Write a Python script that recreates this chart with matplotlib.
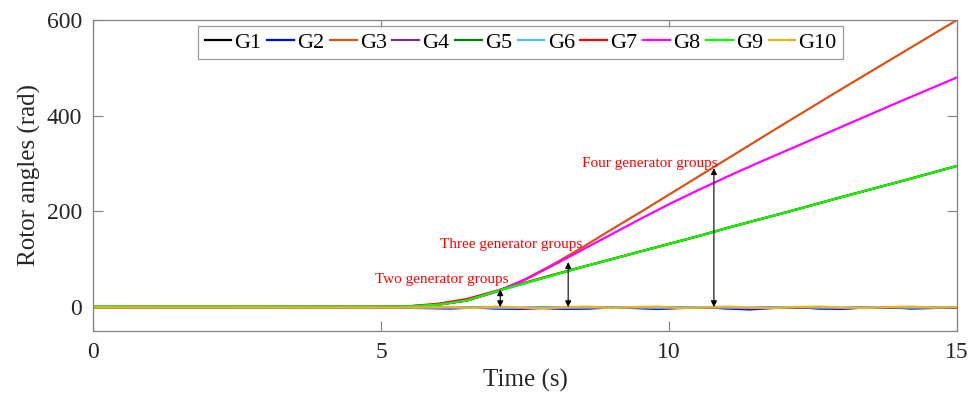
import matplotlib.pyplot as plt

plt.rcParams['font.family'] = ['Liberation Serif', 'DejaVu Serif']

# time base for the swinging groups (s)
t = [0, 5.0, 5.5, 6.0, 6.5, 7.0, 7.5, 8.0, 8.5, 9.0, 9.5, 10.0, 10.5, 11.0,
     11.5, 12.0, 13.0, 14.0, 15.0]

g3 = [0, 0.3, 1.5, 5, 14, 32, 58, 90, 125, 162, 198, 235, 272, 309, 346, 383,
      456, 528, 600]
g8 = [0, 0.3, 1.5, 5, 14, 32, 57, 88, 120, 152, 184, 215, 244, 272, 299, 325,
      377, 429, 480]
g5 = [0.5, 0.6, 1.5, 5, 14, 33, 50, 67, 84, 100, 116, 132, 148, 165, 181, 197,
      230, 262, 295]
g7 = [0.5, 0.6, 2.0, 7, 17, 34, 51, 68, 84, 100, 116, 132, 148, 165, 181, 197,
      230, 262, 295]
g9 = [0.8, 0.8, 1.5, 5, 14, 33, 50, 67, 84, 100, 116, 132, 148, 165, 181, 197,
      230, 262, 295]

# time base for the generators that stay in step (s)
t_s = [0, 5.0, 5.4, 5.8, 6.2, 6.6, 7.0, 7.4, 7.8, 8.2, 8.6, 9.0, 9.4, 9.8,
       10.2, 10.6, 11.0, 11.4, 11.8, 12.2, 12.6, 13.0, 13.4, 13.8, 14.2,
       14.6, 15.0]
g1 = [-1, -1, -1, -1, -1.5, -1, -2, -2, -1, -2, -2, -1, -1, -2, -1, -1, -2,
      -2, -1, -1, -2, -2, -1, -1, -2, -1, -1]
g2 = [-1, -1, -1.5, -2, -3, -1, -3, -4, -2, -4, -3, -1, -2, -4, -2, 0, -3,
      -5, -2, 0, -3, -4, -1, 0, -3, -2, 0]
g4 = [-1.5, -1.5, -1.5, -2, -2, -1.5, -2, -2.5, -1.5, -2.5, -2, -1.5, -1.5,
      -2.5, -1.5, -1, -2, -2.5, -1.5, -1, -2, -2.5, -1, -1, -2, -1.5, -1]
g6 = [-0.5, -0.5, -0.5, -1, -1, -0.5, -1.5, -1.5, -0.5, -1.5, -1, -0.5,
      -0.5, -1.5, -0.5, 0, -1, -1.5, -0.5, 0, -1, -1.5, -0.5, 0, -1, -0.5, 0]
g10 = [-1, -1, -1, -0.5, 0, -2, 1, -1, -3, 0, 1, -2, 0, 1, -2, -1, 1, -1, -2,
       0, 1, -1, -2, 0, 1, -1, 0]

fig = plt.figure(figsize=(9.74, 4.04), dpi=100)
ax = fig.add_axes([0.0955, 0.1807, 0.887, 0.7698])

lw = 1.6
ax.plot(t_s, g1, color='black', lw=lw, label='G1')
ax.plot(t_s, g2, color='#0000FF', lw=lw, label='G2')
ax.plot(t, g3, color='#D95319', lw=lw, label='G3')
ax.plot(t_s, g4, color='#7E2F8E', lw=lw, label='G4')
ax.plot(t, g5, color='#008000', lw=lw, label='G5')
ax.plot(t_s, g6, color='#4DBEEE', lw=lw, label='G6')
ax.plot(t, g7, color='#FF0000', lw=lw, label='G7')
ax.plot(t, g8, color='#FF00FF', lw=lw, label='G8')
ax.plot(t, g9, color='#00FF00', lw=lw, label='G9')
ax.plot(t_s, g10, color='#EDB120', lw=lw, label='G10')

# group separation markers
arrow = dict(arrowstyle='<|-|>', color='black', lw=0.8,
             mutation_scale=9, shrinkA=0, shrinkB=0)
ax.annotate('', xy=(7.07, 37), xytext=(7.07, 0), arrowprops=arrow)
ax.annotate('', xy=(8.25, 94), xytext=(8.25, 0), arrowprops=arrow)
ax.annotate('', xy=(10.78, 290), xytext=(10.78, 0), arrowprops=arrow)

ax.text(6.06, 58, 'Two generator groups', color='red', fontsize=11,
        ha='center', va='center')
ax.text(7.26, 131, 'Three generator groups', color='red', fontsize=11,
        ha='center', va='center')
ax.text(9.67, 300, 'Four generator groups', color='red', fontsize=11,
        ha='center', va='center')

ax.set_xlim(0, 15)
ax.set_ylim(-50, 600)
ax.set_xticks([0, 5, 10, 15])
ax.set_yticks([0, 200, 400, 600])
ax.tick_params(direction='in', length=7, width=0.8, color='#808080',
               labelsize=17, top=True, right=True, pad=8, labelcolor='#262626')
for s in ax.spines.values():
    s.set_color('#808080')
    s.set_linewidth(0.9)

ax.set_xlabel('Time (s)', fontsize=18, color='#262626', labelpad=4)
ax.set_ylabel('Rotor angles (rad)', fontsize=18, color='#262626', labelpad=4)

leg = ax.legend(loc='upper center', bbox_to_anchor=(0.495, 0.982), ncol=10,
                fontsize=16, frameon=True, fancybox=False,
                handlelength=1.2, handletextpad=0.15, columnspacing=0.25,
                borderpad=0.3, borderaxespad=0)
leg.get_frame().set_edgecolor('#808080')
leg.get_frame().set_linewidth(0.9)

fig.savefig('out.png', dpi=100)
